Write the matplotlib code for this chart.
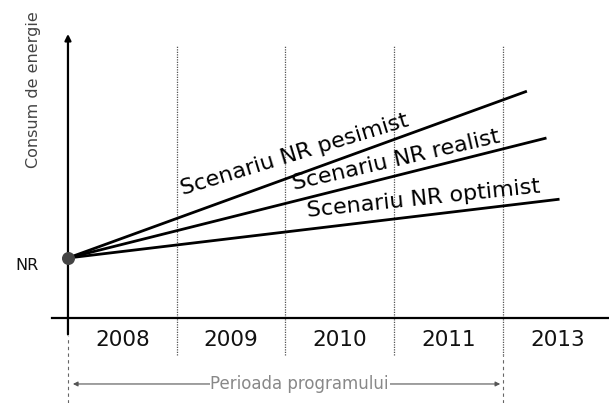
import matplotlib.pyplot as plt
import numpy as np

# x: program periods (0 = start of 2008), y: energy consumption, NR = 1
years = ['2008', '2009', '2010', '2011', '2013']
period_edges = [1, 2, 3, 4]
nr_level = 1.0
scenarios = ['Scenariu NR pesimist', 'Scenariu NR realist', 'Scenariu NR optimist']
scenario_end_x = [4.22, 4.40, 4.52]
scenario_end_y = [3.78, 3.00, 1.98]
label_pos = [(2.10, 2.62, 17), (3.03, 2.53, 13), (3.28, 1.88, 6)]

fig = plt.figure(figsize=(6.09, 4.03), dpi=100)
ax = fig.add_axes([0, 0, 1, 1])
ax.set_xlim(-0.625, 4.975)
ax.set_ylim(-1.417, 5.3)
ax.axis('off')

# dotted period separators
for i, x in enumerate(period_edges):
    ax.plot([x, x], [-0.62, 4.55], color='#555555', lw=0.9, ls=(0, (1, 1)))
ax.plot([4, 4], [-1.42, -0.62], color='#666666', lw=0.8, ls=(0, (3, 3)))
ax.plot([0, 0], [-1.42, -0.3], color='#666666', lw=0.8, ls=(0, (3, 3)))

# axes
ax.annotate('', xy=(0, 4.78), xytext=(0, -0.32),
            arrowprops=dict(arrowstyle='-|>', lw=1.6, color='black', mutation_scale=9))
ax.plot([-0.147, 4.975], [0, 0], color='black', lw=1.6)

# scenario lines
for ex, ey in zip(scenario_end_x, scenario_end_y):
    ax.plot([0, ex], [nr_level, ey], color='black', lw=2.0, solid_capstyle='butt')
ax.scatter([0], [nr_level], s=70, color='#444444', zorder=5)

for name, (tx, ty, rot) in zip(scenarios, label_pos):
    ax.text(tx, ty, name, fontsize=16, rotation=rot, rotation_mode='anchor',
            ha='center', va='baseline', color='black')

for i, y in enumerate(years):
    ax.text(i + 0.5, -0.37, y, fontsize=15.5, ha='center', va='center', color='#111111')

ax.text(-0.375, 0.88, 'NR', fontsize=11.5, ha='center', va='center', color='#111111')
ax.text(-0.32, 3.8, 'Consum de energie', fontsize=11.5, rotation=90,
        ha='center', va='center', color='#444444')

# program period arrow
ax.annotate('', xy=(4.0, -1.1), xytext=(0.02, -1.1),
            arrowprops=dict(arrowstyle='<|-|>', lw=0.8, color='#555555', mutation_scale=7))
ax.text(2.13, -1.1, 'Perioada programului', fontsize=12, ha='center', va='center',
        color='#888888', bbox=dict(facecolor='white', edgecolor='none', pad=0.5))

fig.savefig('out.png', dpi=100)
